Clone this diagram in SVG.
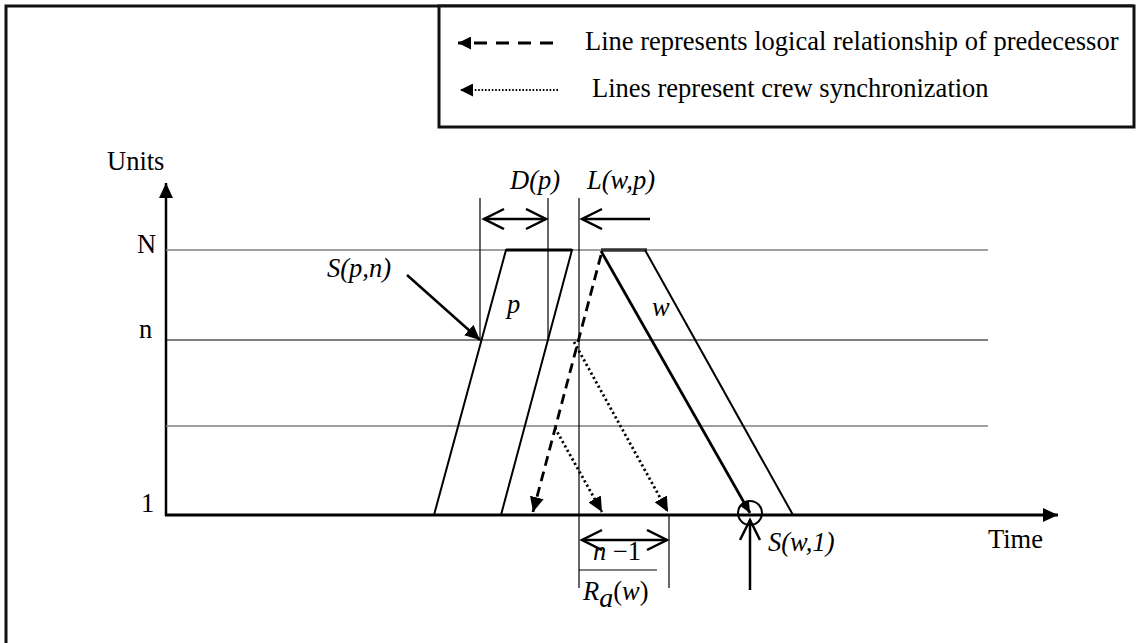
<svg xmlns="http://www.w3.org/2000/svg" width="1136" height="643" viewBox="0 0 1136 643">
<style>
text{font-family:"Liberation Serif","Times New Roman",serif;font-size:26.5px;fill:#000}
.it{font-style:italic}
.thin{stroke:#000;stroke-width:1.2;fill:none}
.grid{stroke:#808080;stroke-width:1.5;fill:none}
.act{stroke:#000;stroke-width:2;fill:none}
.dash{stroke:#000;stroke-width:2.8;stroke-dasharray:10 6;fill:none}
.dot{stroke:#000;stroke-width:2.8;stroke-dasharray:2.2 2.8;fill:none}
.dim{stroke:#000;stroke-width:2.5;fill:none}
</style>
<defs>
<marker id="fa" markerUnits="userSpaceOnUse" markerWidth="16" markerHeight="14" refX="15" refY="7" orient="auto"><path d="M0,0 L15,7 L0,14 z" fill="#000"/></marker>
<marker id="fs" markerUnits="userSpaceOnUse" markerWidth="12" markerHeight="11" refX="12" refY="5.5" orient="auto"><path d="M0,0 L12,5.5 L0,11 z" fill="#000"/></marker>
<marker id="fl" markerUnits="userSpaceOnUse" markerWidth="14" markerHeight="13" refX="13" refY="6.5" orient="auto"><path d="M0,0 L13,6.5 L0,13 z" fill="#000"/></marker>
<marker id="oa" markerUnits="userSpaceOnUse" markerWidth="24" markerHeight="24" refX="21" refY="11" orient="auto-start-reverse"><path d="M1,1 L21,11 L1,21" fill="none" stroke="#000" stroke-width="2.5"/></marker>
</defs>
<rect width="1136" height="643" fill="#fff"/>
<g id="frame">
<path d="M6,643 V6 H1134" stroke="#111" stroke-width="3" fill="none"/>
</g>
<g id="legend">
<rect x="439" y="6" width="695" height="121" fill="#fff" stroke="#111" stroke-width="3"/>
<line x1="553" y1="43" x2="458" y2="43" stroke="#000" stroke-width="3" stroke-dasharray="13 9" marker-end="url(#fl)"/>
<text x="585" y="50">Line represents logical relationship of predecessor</text>
<line x1="558" y1="90" x2="460" y2="90" stroke="#000" stroke-width="2.2" stroke-dasharray="1.6 1.8" marker-end="url(#fl)"/>
<text x="592" y="97">Lines represent crew synchronization</text>
</g>
<g id="axes">
<line x1="166" y1="516" x2="166" y2="183" stroke="#000" stroke-width="2.5" marker-end="url(#fa)"/>
<line x1="165" y1="515" x2="1058" y2="515" stroke="#000" stroke-width="3" marker-end="url(#fa)"/>
<text x="107" y="170">Units</text>
<text x="1043" y="548" text-anchor="end">Time</text>
<text x="137" y="253">N</text>
<text x="139" y="338">n</text>
<text x="141" y="512">1</text>
</g>
<g id="grid">
<line class="grid" x1="166" y1="250" x2="988" y2="250"/>
<line class="thin" x1="166" y1="340" x2="988" y2="340"/>
<line class="grid" x1="166" y1="426" x2="988" y2="426"/>
</g>
<g id="activity-p">
<path class="act" d="M434,515 L506,250 L572,250 L501,515"/>
<line x1="506" y1="250" x2="572" y2="250" stroke="#000" stroke-width="3"/>
<text class="it" x="507" y="313">p</text>
</g>
<g id="activity-w">
<line x1="601" y1="250" x2="647" y2="250" stroke="#333" stroke-width="3.5"/>
<line x1="601" y1="251" x2="750" y2="513" stroke="#000" stroke-width="2.8" marker-end="url(#fs)"/>
<line x1="645" y1="250" x2="793" y2="515" stroke="#000" stroke-width="2"/>
<text class="it" x="652" y="316">w</text>
</g>
<g id="dimensions">
<line class="thin" x1="480" y1="198" x2="480" y2="340"/>
<line class="thin" x1="548" y1="198" x2="548" y2="340"/>
<line class="thin" x1="579" y1="198" x2="579" y2="588"/>
<line class="thin" x1="669" y1="515" x2="669" y2="588"/>
<line class="dim" x1="484" y1="219" x2="546" y2="219" marker-start="url(#oa)" marker-end="url(#oa)"/>
<line class="dim" x1="650" y1="219" x2="582" y2="219" marker-end="url(#oa)"/>
<line class="dim" x1="582" y1="540" x2="667" y2="540" marker-start="url(#oa)" marker-end="url(#oa)"/>
<line class="thin" x1="579" y1="570" x2="657" y2="570"/>
<text class="it" x="510" y="189">D(p)</text>
<text class="it" x="587" y="189">L(w,p)</text>
<text x="593" y="560"><tspan class="it">n</tspan> −1</text>
<text x="583" y="600"><tspan class="it">R</tspan><tspan class="it" font-size="28" dy="7">a</tspan><tspan dy="-7">(</tspan><tspan class="it">w</tspan>)</text>
</g>
<g id="connectors">
<line class="dash" x1="601" y1="255" x2="533" y2="512" marker-end="url(#fa)"/>
<line class="dot" x1="574" y1="342" x2="668" y2="512" marker-end="url(#fa)"/>
<line class="dot" x1="555" y1="428" x2="602" y2="512" marker-end="url(#fa)"/>
<line x1="407" y1="275" x2="480" y2="340" stroke="#000" stroke-width="2.5" marker-end="url(#fa)"/>
<line class="dim" x1="750" y1="590" x2="750" y2="520" marker-end="url(#oa)"/>
</g>
<g id="labels">
<text class="it" x="327" y="277">S(p,n)</text>
<circle cx="750" cy="513" r="12" fill="none" stroke="#000" stroke-width="2"/>
<text class="it" x="768" y="551">S(w,1)</text>
</g>
</svg>
